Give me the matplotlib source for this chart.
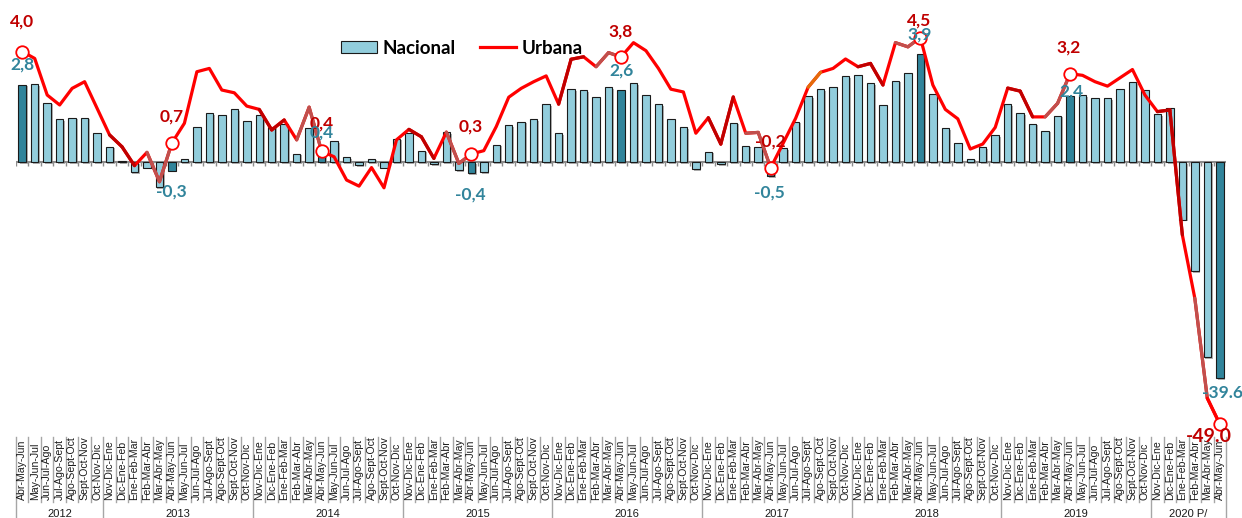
"""Nacional vs Urbana: rolling-quarter variation, 2012 - 2020 P/."""

import matplotlib
matplotlib.use("Agg")  # headless
import matplotlib.pyplot as plt
import matplotlib.patheffects as pe
import matplotlib.transforms as mtransforms
from matplotlib.lines import Line2D
from matplotlib.patches import Patch
import numpy as np

# --- data -------------------------------------------------------------------
CYCLE = [
    "Nov-Dic-Ene", "Dic-Ene-Feb", "Ene-Feb-Mar", "Feb-Mar-Abr", "Mar-Abr-May",
    "Abr-May-Jun", "May-Jun-Jul", "Jun-Jul-Ago", "Jul-Ago-Sept", "Ago-Sept-Oct",
    "Sept-Oct-Nov", "Oct-Nov-Dic",
]
YEARS = ["2012", "2013", "2014", "2015", "2016", "2017", "2018", "2019", "2020 P/"]
FIRST_PERIOD = "Abr-May-Jun"   # series starts here in 2012
LAST_PERIOD = "Abr-May-Jun"    # and ends here in 2020

NACIONAL = [
    2.8, 2.82, 2.15, 1.56, 1.61, 1.61, 1.07, 0.56, 0.06, -0.36, -0.19, -0.90,
    -0.3, 0.11, 1.27, 1.77, 1.70, 1.91, 1.48, 1.70, 1.29, 1.38, 0.31, 1.24,
    0.4, 0.77, 0.18, -0.10, 0.13, -0.19, 0.85, 1.07, 0.42, -0.06, 1.09, -0.29,
    -0.4, -0.36, 0.64, 1.35, 1.47, 1.56, 2.09, 1.06, 2.64, 2.60, 2.35, 2.72,
    2.6, 2.85, 2.43, 2.09, 1.55, 1.26, -0.24, 0.38, -0.06, 1.43, 0.60, 0.56,
    -0.5, 0.51, 1.47, 2.38, 2.64, 2.73, 3.10, 3.14, 2.85, 2.06, 2.95, 3.23,
    3.9, 2.47, 1.23, 0.69, 0.13, 0.55, 0.97, 2.09, 1.77, 1.39, 1.14, 1.68,
    2.4, 2.43, 2.31, 2.31, 2.64, 2.89, 2.60, 1.73, 1.97, -7.1, -17.6, -35.3,
    -39.6,
]
URBANA = [
    4.0, 3.75, 2.43, 2.07, 2.67, 2.91, 1.95, 0.99, 0.56, -0.12, 0.36, -0.70,
    0.7, 1.41, 3.27, 3.39, 2.61, 2.51, 2.03, 1.91, 1.17, 1.53, 0.81, 1.99,
    0.4, 0.20, -0.64, -0.86, -0.19, -0.92, 0.81, 1.19, 0.92, 0.14, 1.09, -0.04,
    0.3, 0.42, 1.29, 2.35, 2.67, 2.91, 3.12, 2.10, 3.72, 3.81, 3.45, 3.96,
    3.8, 4.32, 4.03, 3.39, 2.64, 2.54, 1.05, 1.61, 0.66, 2.36, 1.05, 1.08,
    -0.2, 0.69, 1.59, 2.71, 3.25, 3.39, 3.73, 3.45, 3.57, 2.79, 4.32, 4.17,
    4.5, 2.79, 1.91, 1.57, 0.48, 0.66, 1.26, 2.68, 2.57, 1.64, 1.64, 2.13,
    3.2, 3.14, 2.91, 2.75, 3.05, 3.35, 2.43, 1.83, 1.89, -10.2, -23.2, -43.7,
    -49.0,
]

# build the rolling-quarter tick labels and their year groups
PERIOD_LABELS = []
YEAR_SPANS = []
for k, year in enumerate(YEARS):
    start = CYCLE.index(FIRST_PERIOD) if k == 0 else 0
    stop = CYCLE.index(LAST_PERIOD) + 1 if k == len(YEARS) - 1 else len(CYCLE)
    first = len(PERIOD_LABELS)
    PERIOD_LABELS.extend(CYCLE[start:stop])
    YEAR_SPANS.append((year, first, len(PERIOD_LABELS) - 1))

# --- style ------------------------------------------------------------------
LIGHT = "#92CDDC"
DARK = "#31849B"
RED = "#FF0000"
DARK_RED = "#C00000"
MUTED_RED = "#C0504D"
GRID_GRAY = "#A6A6A6"
LABEL_FONT = ["Lato", "DejaVu Sans"]

# vertical compression below this value so the 2020 drop fits
BREAK = -1.0
SQUEEZE = 0.176


def _fwd(y):
    y = np.asarray(y, dtype=float)
    return np.where(y >= BREAK, y, BREAK + (y - BREAK) * SQUEEZE)


def _inv(y):
    y = np.asarray(y, dtype=float)
    return np.where(y >= BREAK, y, BREAK + (y - BREAK) / SQUEEZE)


W, H = 1242, 518
fig = plt.figure(figsize=(W / 100, H / 100), dpi=100)
ax = fig.add_axes([16 / W, 86 / H, 1210 / W, 432 / H])
ax.set_yscale("function", functions=(_fwd, _inv))
ax.set_xlim(-0.5, len(PERIOD_LABELS) - 0.5)
ax.set_ylim(-50.64, 5.86)
ax.set_axis_off()

x = np.arange(len(PERIOD_LABELS))
nac = np.array(NACIONAL)
urb = np.array(URBANA)
highlight = [i for i, lab in enumerate(PERIOD_LABELS) if lab == "Abr-May-Jun"]

# zero line with small ticks between categories
ax.axhline(0, color="#8C8C8C", lw=1.5, zorder=1)
ax.vlines(np.arange(-0.5, len(x)), -0.13, 0, color="#8C8C8C", lw=1, zorder=1)

# bars
colors = [DARK if i in highlight else LIGHT for i in x]
bars = ax.bar(x, nac, width=0.6, color=colors, edgecolor="#1A1A1A",
              linewidth=0.8, zorder=2)
for b in bars:
    b.set_path_effects([
        pe.SimplePatchShadow(offset=(1.2, -1.2), shadow_rgbFace="#808080", alpha=0.6),
        pe.Normal(),
    ])

# line, with the odd per-segment colouring of the original
ax.plot(x, urb, color=RED, lw=2.3, zorder=3, solid_joinstyle="round",
        solid_capstyle="round", clip_on=False)
seg_colors = {}
for h in highlight[1:]:
    seg_colors[h - 5] = DARK_RED
    seg_colors[h - 4] = DARK_RED
    seg_colors[h - 2] = MUTED_RED
    seg_colors[h - 1] = MUTED_RED
seg_colors[63] = "#E46C0A"
seg_colors[95] = RED
for j, c in seg_colors.items():
    ax.plot(x[j:j + 2], urb[j:j + 2], color=c, lw=2.3, zorder=3,
            solid_capstyle="round", clip_on=False)

ax.plot(x[highlight], urb[highlight], "o", ms=9, mfc="white", mec=RED,
        mew=1.3, zorder=5, clip_on=False)

# value labels: offsets in pixels (dx, dy) from the point
URB_OFFSETS = [(0, 30), (0, 26), (0, 28), (-1, 27), (0, 26), (0, 26), (-1, 17), (-1, 26), (-11, -12)]
NAC_OFFSETS = [(0, 20), (-1, -21), (0, 19), (-1, -21), (0, 20), (-1, -16), (-1, 20), (1, 4), (3, -15)]


def _fmt(v, last):
    s = f"{v:.1f}"
    return s if last else s.replace(".", ",")


for n, h in enumerate(highlight):
    last = n == len(highlight) - 1
    dx, dy = URB_OFFSETS[n]
    ax.annotate(_fmt(urb[h], last), (x[h], urb[h]), textcoords="offset points",
                xytext=(dx * 0.72, dy * 0.72), ha="center", va="center",
                fontsize=14 if last else 12.5, fontweight="bold", color=DARK_RED,
                family=LABEL_FONT, zorder=6, annotation_clip=False)
    dx, dy = NAC_OFFSETS[n]
    ax.annotate(_fmt(nac[h], last), (x[h], nac[h]), textcoords="offset points",
                xytext=(dx * 0.72, dy * 0.72), ha="center", va="center",
                fontsize=12.5, fontweight="bold", color=DARK,
                family=LABEL_FONT, zorder=6, annotation_clip=False)

# category axis drawn below the plot
blend = mtransforms.blended_transform_factory(ax.transData, fig.transFigure)
top_y, lab_y = 1 - 437 / H, 1 - 500 / H
for i, lab in enumerate(PERIOD_LABELS):
    ax.text(i, lab_y, lab, transform=blend, rotation=90, ha="center", va="bottom",
            fontsize=7.6, family=["Liberation Sans", "DejaVu Sans"], color="#1A1A1A")
year_edges = {-0.5} | {last + 0.5 for _, _, last in YEAR_SPANS}
for b in np.arange(-0.5, len(x)):
    y0 = 0.0 if b in year_edges else lab_y - 0.004
    ax.add_line(Line2D([b, b], [top_y, y0], transform=blend, color=GRID_GRAY,
                       lw=1, clip_on=False))
for year, first, last in YEAR_SPANS:
    ax.text((first + last) / 2, 1 - 514 / H, year, transform=blend, ha="center",
            va="center", fontsize=8, family=["Liberation Sans", "DejaVu Sans"],
            color="#1A1A1A")

handles = [
    Patch(facecolor=LIGHT, edgecolor="#1A1A1A", linewidth=0.8, label="Nacional"),
    Line2D([], [], color=RED, lw=2.3, label="Urbana"),
]
fig.legend(handles=handles, loc="center left", bbox_to_anchor=(332 / W, 1 - 48 / H),
           ncol=2, frameon=False, borderpad=0, handlelength=1.9, handleheight=0.6,
           handletextpad=0.3, columnspacing=1.3,
           prop={"family": LABEL_FONT, "weight": "bold", "size": 13.5})

fig.savefig("out.png", dpi=100)
